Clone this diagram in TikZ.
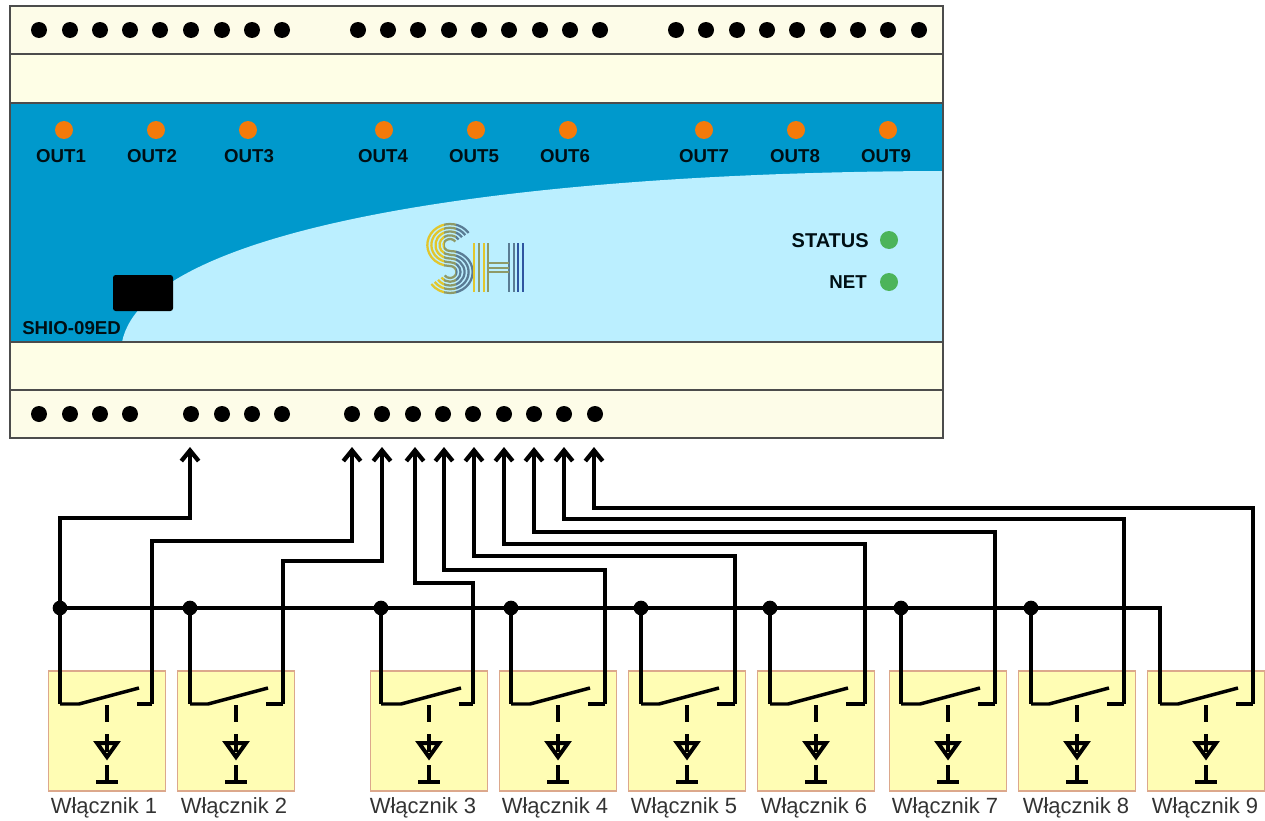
\documentclass[tikz,border=0pt]{standalone}
\usepackage{fontspec}
\setmainfont{Liberation Sans}
\usetikzlibrary{arrows.meta}
\definecolor{railtop}{HTML}{FDFCE8}
\definecolor{railmid}{HTML}{FEFEE6}
\definecolor{paneldark}{HTML}{0099CC}
\definecolor{panellight}{HTML}{BBEFFF}
\definecolor{ledorange}{HTML}{F47A0A}
\definecolor{ledgreen}{HTML}{4CB45A}
\definecolor{swfill}{HTML}{FFFDB4}
\definecolor{swedge}{HTML}{DCA88C}
\definecolor{logoa}{HTML}{E2C62C}
\definecolor{logob}{HTML}{8E9A68}
\definecolor{logoc}{HTML}{5A7C94}
\definecolor{logod}{HTML}{2F55A0}
\tikzset{
  rail/.style = {draw=black!70, line width=1.1pt},
  term_n/.style = {circle, fill=black, inner sep=0pt, minimum size=12pt},
  led_o/.style = {circle, fill=ledorange, inner sep=0pt, minimum size=13.5pt},
  led_g/.style = {circle, fill=ledgreen, inner sep=0pt, minimum size=13.5pt},
  panel_txt/.style = {font=\fontsize{14}{16}\selectfont\bfseries, text=black!90!paneldark, inner sep=0pt},
  sw_box/.style = {rectangle, draw=swedge, fill=swfill, line width=0.8pt, inner sep=0pt,
    minimum width=87.5pt, minimum height=90pt},
  sw_txt/.style = {font=\fontsize{16.5}{18}\selectfont, text=black!80, inner sep=0pt},
  bus_n/.style = {circle, fill=black, inner sep=0pt, minimum size=11pt},
  wire/.style = {line width=2.6pt, draw=black},
  sym/.style = {line width=2.6pt, draw=black},
  wiretip/.style = {wire, -{Straight Barb[length=8pt,width=13pt,line width=3.2pt]}},
  stripe/.style = {line width=1.7pt}
}
\begin{document}
\begin{tikzpicture}[x=0.75pt,y=-0.75pt]
\useasboundingbox (0,0) rectangle (1265,821);
% housing
\draw[rail,fill=railtop] (10,6) rectangle (943,54);
\draw[rail,fill=railmid] (10,54) rectangle (943,103);
\fill[paneldark] (10,103) rectangle (943,342);
\fill[panellight] (122,342) .. controls (146,225) and (520,172) .. (943,171) -- (943,342) -- cycle;
\draw[rail] (10,103) rectangle (943,342);
\draw[rail,fill=railmid] (10,342) rectangle (943,390);
\draw[rail,fill=railtop] (10,390) rectangle (943,438);
\node[rectangle, fill=black, rounded corners=2pt, minimum width=45pt, minimum height=27pt, inner sep=0pt] (port) at (143,293) {};
\node[panel_txt, anchor=west] (model) at (22,328) {SHIO-09ED};
% terminals
\foreach \i/\x in {1/39,2/70,3/100,4/130,5/160,6/191,7/222,8/252,9/282,
  10/358,11/388,12/418,13/449,14/479,15/509,16/540,17/570,18/600,
  19/676,20/706,21/737,22/767,23/797,24/828,25/858,26/888,27/919}
  \node[term_n] (top\i) at (\x,30) {};
\foreach \i/\x in {1/39,2/70,3/100,4/130,5/191,6/222,7/252,8/282,
  9/352,10/382,11/413,12/443,13/473,14/504,15/534,16/564,17/595}
  \node[term_n] (bot\i) at (\x,414) {};
% leds
\foreach \i/\x/\xt in {1/64/61,2/156/152,3/248/249,4/384/383,5/476/474,6/568/565,7/704/704,8/796/795,9/888/886}{
  \node[led_o] (out\i) at (\x,130) {};
  \node[panel_txt] (outtxt\i) at (\xt,156) {OUT\i};
}
\node[led_g] (ledstatus) at (889,240) {};
\node[panel_txt, anchor=east, font=\fontsize{15}{16}\selectfont\bfseries] (txtstatus) at (869,241) {STATUS};
\node[led_g] (lednet) at (889,282) {};
\node[panel_txt, anchor=east] (txtnet) at (867,282) {NET};
% logo
\foreach \xc/\xd/\col in {424/444/logoa,444/456/logob,456/476/logoc}{
  \begin{scope}
    \clip (\xc,220) rectangle (\xd,298);
    \foreach \R in {21,17.25,13.5,9.75,6}
      \draw[stripe,draw=\col] ({450+1.08*\R*cos(35)},{245-\R*sin(35)})
        arc[start angle=35, end angle=270, x radius=1.08*\R*0.75pt, y radius=\R*0.75pt]
        arc[start angle=90, end angle=-145, x radius={1.08*(27-\R)*0.75pt}, y radius={(27-\R)*0.75pt}];
  \end{scope}
}
\foreach \x/\col in {474/logoa,479/logob,484/logoa,488/logob,509/logoc,514/logoc,518/logod,523/logod}
  \draw[stripe,draw=\col] (\x,243) -- (\x,292);
\foreach \y in {263,268,272}
  \draw[stripe,draw=logob] (488,\y) -- (509,\y);
% switches
\foreach \i/\xb/\xl/\xr/\xt in {1/107/60/152/104,2/236/190/283/234,3/429/381/473/423,4/558/511/605/555,
  5/687/641/735/684,6/816/770/865/814,7/948/901/995/945,8/1077/1031/1124/1076,9/1206/1160/1253/1205}{
  \node[sw_box] (sw\i) at (\xb,731) {};
  \node[sw_txt] (swtxt\i) at (\xt,808) {Włącznik \i};
  \coordinate (arm\i) at (\xl,704);
  \coordinate (con\i) at (\xr,704);
  \begin{scope}[shift={(\xb,0)}]
    \coordinate (hinge\i) at (-28,704);
    \coordinate (blade\i) at (32,688);
    \coordinate (stub\i) at (30,704);
    \draw[sym] (0,705) -- (0,722);
    \draw[sym,line width=3pt] (-10,743) -- (10,743) -- (0,757) -- cycle;
    \draw[sym,line width=3pt] (0,734) -- (0,752);
    \draw[sym] (0,765) -- (0,782);
    \draw[sym] (-11,782) -- (11,782);
  \end{scope}
}
% bus
\foreach \i/\x in {1/60,2/190,3/381,4/511,5/641,6/770,7/901,8/1031}
  \node[bus_n] (bus\i) at (\x,608) {};
\coordinate (bus9) at (1160,608);
\draw[wire] (bus1.center) -- (bus9) -- (arm9);
\foreach \i in {1,...,8}
  \draw[wire] (bus\i.center) -- (arm\i);
\foreach \i in {1,...,9}{
  \draw[wire] (arm\i) -- (hinge\i) -- (blade\i);
  \draw[wire] (stub\i) -- (con\i);
}
% wires to inputs
\foreach \n/\x in {0/190,1/352,2/382,3/415,4/444,5/474,6/504,7/534,8/564,9/594}
  \coordinate (tip\n) at (\x,447);
\draw[wiretip] (bus1.center) -- (bus1 |- 0,518) -| (tip0);
\foreach \i/\y in {1/541,2/561,3/583,4/570,5/556,6/544,7/532,8/519,9/508}
  \draw[wiretip] (con\i) -- (con\i |- 0,\y) -| (tip\i);
\end{tikzpicture}
\end{document}
